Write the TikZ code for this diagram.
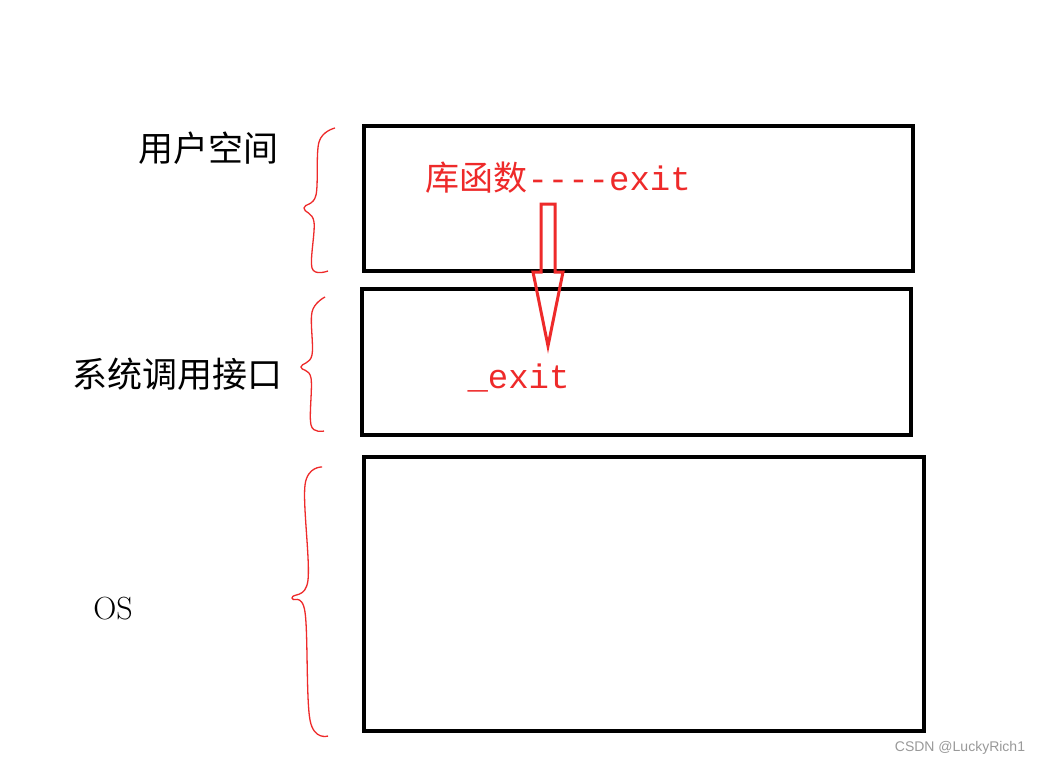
\documentclass[tikz,border=0pt]{standalone}
\usepackage{fontspec}
\newfontfamily\cjk{Noto Sans CJK SC}
\newfontfamily\mono{Liberation Mono}
\newfontfamily\sans{Liberation Sans}
\definecolor{pen}{HTML}{EE2A2A}
\begin{document}
\begin{tikzpicture}[x=1pt,y=-1pt,
  box/.style={draw=black,line width=4pt},
  brace/.style={draw=pen,line width=1.3pt},
  lbl/.style={font=\fontsize{35}{35}\selectfont\cjk},
  rlbl/.style={text=pen,font=\fontsize{34}{34}\selectfont\mono}]
\useasboundingbox (0,0) rectangle (1046,766);
\fill[white] (0,0) rectangle (1046,766);
\draw[box] (364,126) rectangle (913,271);
\draw[box] (362,289) rectangle (911,435);
\draw[box] (364,457) rectangle (924,731);
\node[lbl] (u) at (208,148) {用户空间};
\node[lbl] (s) at (177,374) {系统调用接口};
\node[font=\fontsize{32}{32}\selectfont] (os) at (113,609) {OS};
\node[rlbl,anchor=west] (lib) at (422,178) {{\cjk 库函数}----exit};
\node[rlbl,anchor=west] (ex) at (464,378) {\_exit};
\draw[pen,line width=3pt,line join=miter] (541,204) -- (555,204) -- (555,272) -- (563,272) -- (548,346) -- (533,272) -- (541,272) -- cycle;
\draw[brace] plot[smooth,tension=0.6] coordinates {(335,128) (319,142) (316,195) (304,208) (314,222) (312,268) (328,271)};
\draw[brace] plot[smooth,tension=0.6] coordinates {(325,297) (312,312) (312,355) (301,367) (311,378) (311,425) (324,431)};
\draw[brace] plot[smooth,tension=0.6] coordinates {(322,467) (305,485) (308,580) (292,598) (305,612) (310,720) (328,736)};
\node[text=gray!80,font=\fontsize{14}{14}\selectfont\sans] (wm) at (960,748) {CSDN @LuckyRich1};
\end{tikzpicture}
\end{document}
